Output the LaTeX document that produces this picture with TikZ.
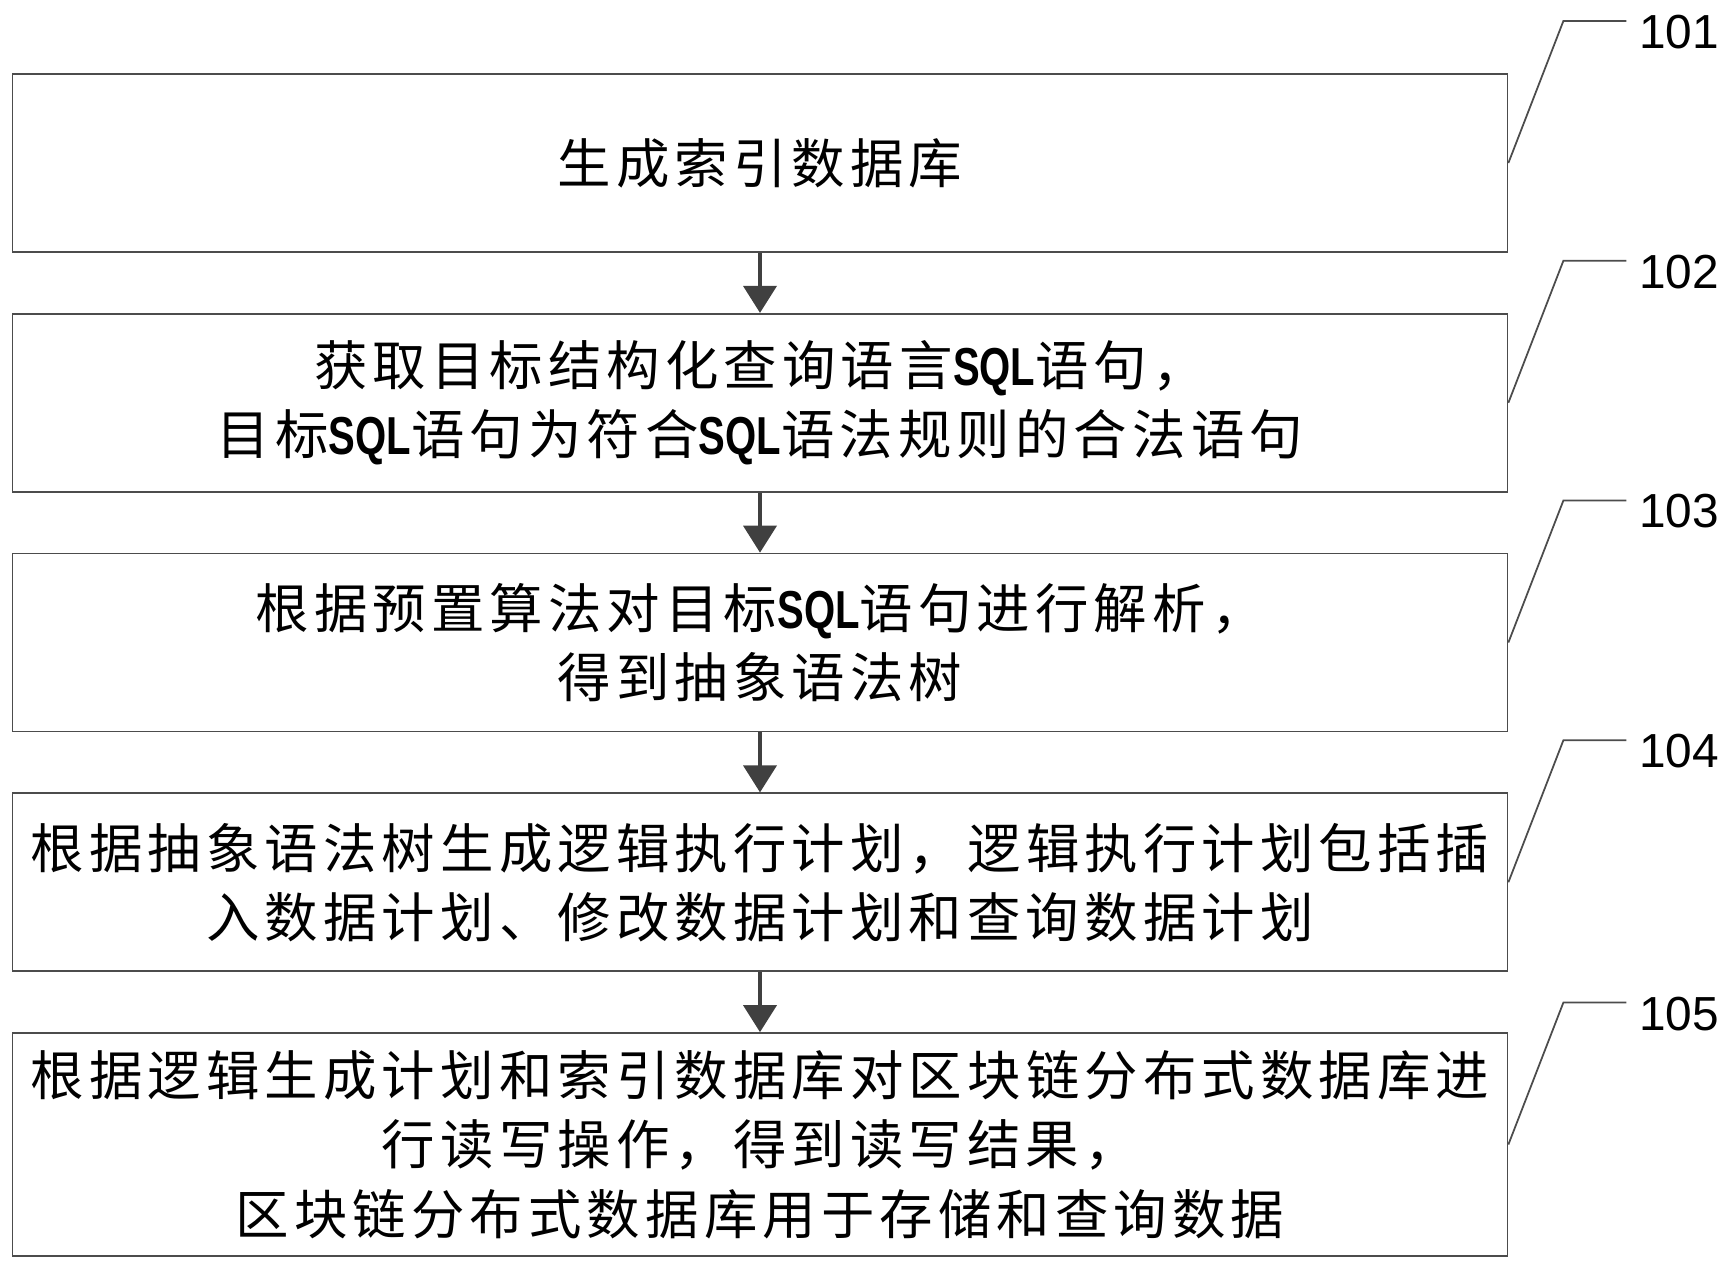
\documentclass[tikz,border=0pt]{standalone}
\usepackage{fontspec}
\usetikzlibrary{arrows.meta,positioning}
\setmainfont{Liberation Sans}
\newfontfamily\cjk[LetterSpace=9.6]{Noto Sans CJK SC}
\newfontfamily\sqlfont[FakeStretch=0.75]{Liberation Sans}
\newcommand{\SQL}{{\sqlfont\bfseries SQL}}

\begin{document}
\begin{tikzpicture}[x=0.1mm,y=-0.1mm,>={Triangle[width=3.3mm,length=2.7mm]},node distance=6mm,
                        box node/.style={rectangle,draw=black!70,line width=0.5pt,minimum width=149.5mm,
                        minimum height=17.8mm,inner sep=0pt,align=center,font=\cjk\fontsize{15.2pt}{19.7pt}\selectfont},
                        num node/.style={anchor=west,inner sep=0pt,font=\fontsize{13.6pt}{16pt}\selectfont},
                        every edge/.style={draw=black!75,line width=1.1pt,->}]
                        \useasboundingbox (0,0) rectangle (1736,1262);
                        \node[box node] (s1) at (760,163) {生成索引数据库};
                        \node[box node] (s2) [below=of s1] {获取目标结构化查询语言\SQL 语句，\\目标\SQL 语句为符合\SQL 语法规则的合法语句};
                        \node[box node] (s3) [below=of s2] {根据预置算法对目标\SQL 语句进行解析，\\得到抽象语法树};
                        \node[box node] (s4) [below=of s3] {根据抽象语法树生成逻辑执行计划，逻辑执行计划包括插\\入数据计划、修改数据计划和查询数据计划};
                        \node[box node,minimum height=22.3mm] (s5) [below=of s4] {根据逻辑生成计划和索引数据库对区块链分布式数据库进\\行读写操作，得到读写结果，\\区块链分布式数据库用于存储和查询数据};
                        
                        \path
                        (s1) edge (s2)
                        (s2) edge (s3)
                        (s3) edge (s4)
                        (s4) edge (s5)
                        ;
                        
                        % step numbers
                        \foreach \i in {1,...,5}{
                        \draw[draw=black!70,line width=0.5pt] (s\i.east) -- ++(55,-142) coordinate (k\i) -- ++(63,0);
                        \node[num node] (n\i) at ([shift={(75,11)}]k\i) {10\i};
                        }
                        \end{tikzpicture}
\end{document}
